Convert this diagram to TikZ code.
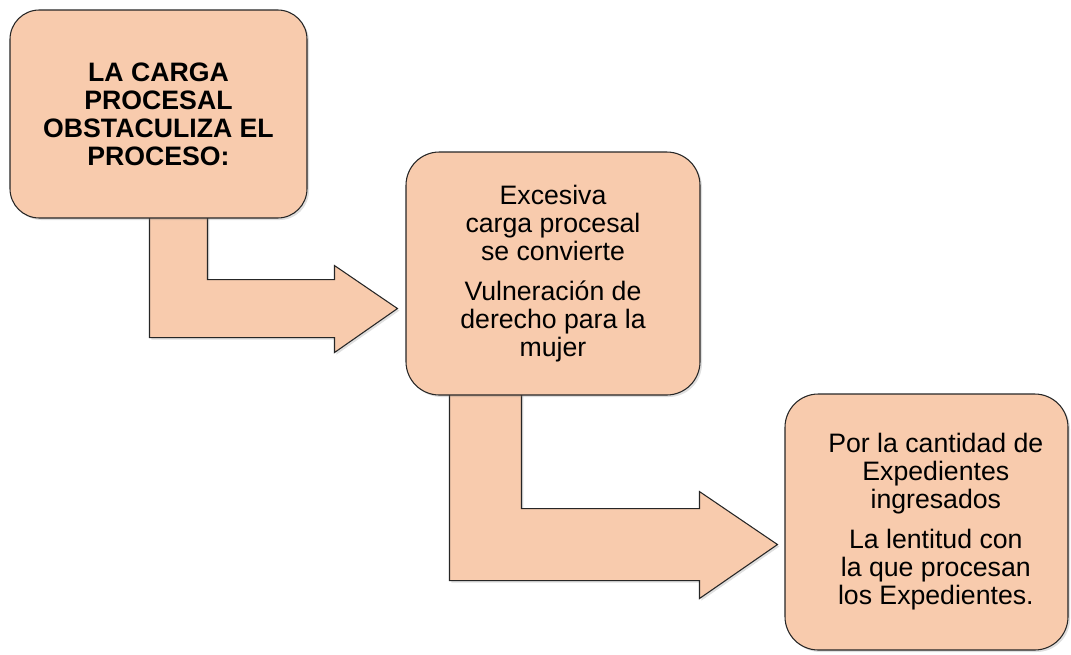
\documentclass[tikz,border=0pt]{standalone}
\usepackage{fontspec}
\setmainfont{Liberation Sans}
\usetikzlibrary{shadows,calc,backgrounds}
\definecolor{peach}{HTML}{F8CBAD}

\begin{document}
\begin{tikzpicture}
	[
	 	 %Styles
       x=0.75pt, y=-0.75pt,
       box_node/.style={rectangle, rounded corners=25pt, draw=black!85, line width=0.8pt, fill=peach,
          align=center, inner sep=0pt, font=\fontsize{20}{21}\selectfont,
          drop shadow={shadow xshift=1.5pt, shadow yshift=-1.5pt, opacity=0.25}},
		 arrow_shape/.style={draw=black!85, line width=0.8pt, fill=peach, line join=miter,
          drop shadow={shadow xshift=1.5pt, shadow yshift=-1.5pt, opacity=0.25}}
    ]
    \useasboundingbox (0,0) rectangle (1071,654);

    %Node placement
    \node (carga) [box_node, rounded corners=22pt, minimum width=222.75pt, minimum height=156pt,
       font=\fontsize{20}{21}\selectfont\bfseries] at (158.5,114)
       {LA CARGA\\ PROCESAL\\ OBSTACULIZA EL\\ PROCESO:};
    \node (exceso) [box_node, minimum width=220.5pt, minimum height=182.25pt] at (553,273.5)
       {Excesiva\\ carga procesal\\ se convierte\\[9pt] Vulneración de\\ derecho para la\\ mujer};
    \node (expedientes) [box_node, minimum width=212.25pt, minimum height=192pt] at (926.5,522)
       {\hspace*{14pt}Por la cantidad de\\ \hspace*{14pt}Expedientes\\ \hspace*{14pt}ingresados\\[9pt]
        \hspace*{14pt}La lentitud con\\ \hspace*{14pt}la que procesan\\ \hspace*{14pt}los Expedientes.};

    %Edges
    \begin{scope}[on background layer]
    \draw [arrow_shape] ($(carga.south west)+(140,-5)$) -- ++(0,124) -- ++(185,0) -- ++(0,15)
       -- ++(63,-44) -- ++(-63,-43) -- ++(0,14) -- ++(-127,0) -- ++(0,-66) -- cycle;
    \draw [arrow_shape] ($(exceso.south west)+(44,-5)$) -- ++(0,190) -- ++(250,0) -- ++(0,18)
       -- ++(78,-54) -- ++(-78,-53) -- ++(0,17) -- ++(-178,0) -- ++(0,-118) -- cycle;
    \end{scope}
\end{tikzpicture}
\end{document}
